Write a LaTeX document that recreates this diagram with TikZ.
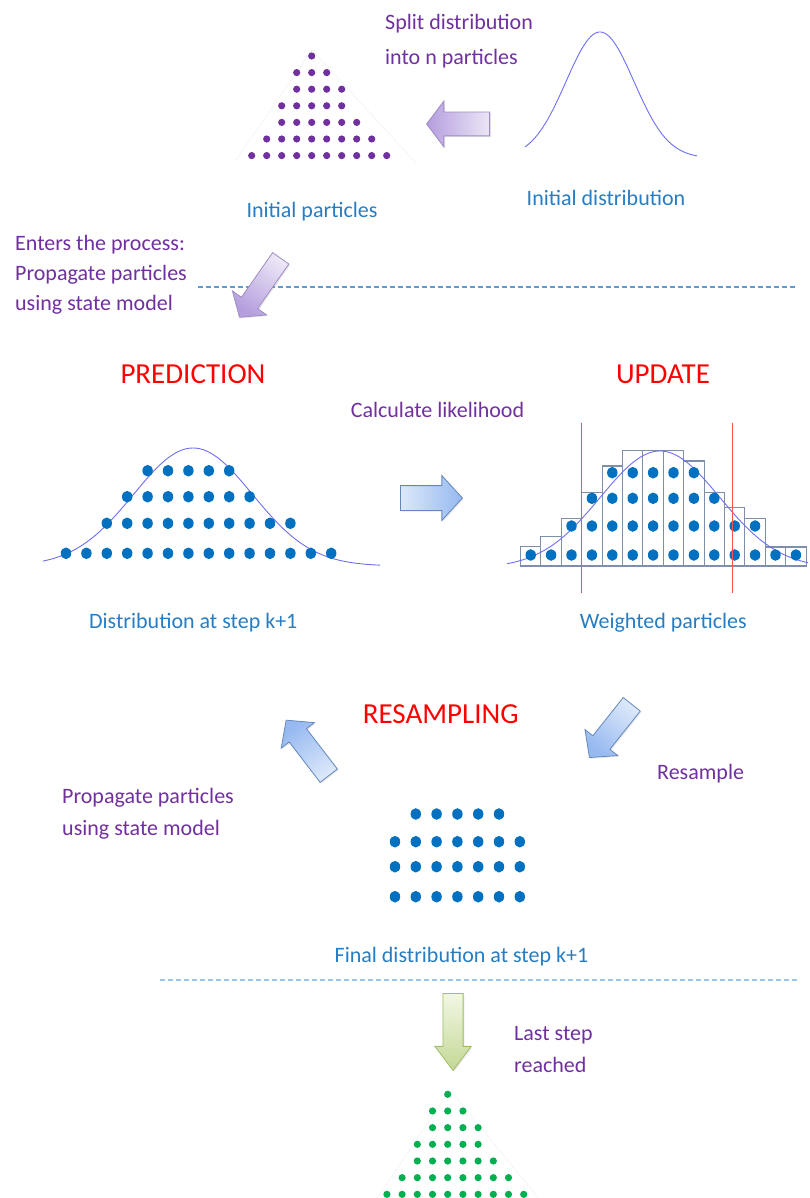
\documentclass[tikz,border=0pt]{standalone}
\usepackage{fontspec}
\setmainfont{Carlito}
\usepackage{tikz}
\usetikzlibrary{positioning,shapes,shapes.arrows,shadows,calc}

\definecolor{NotePurple}{RGB}{112,48,160}
\definecolor{LabelBlue}{RGB}{38,125,195}
\definecolor{DotBlue}{RGB}{0,112,192}
\definecolor{DotPurple}{RGB}{112,48,160}
\definecolor{DotGreen}{RGB}{0,176,80}
\definecolor{BellLine}{RGB}{110,110,240}
\definecolor{BarLine}{RGB}{125,143,170}
\definecolor{SepBlue}{RGB}{91,155,213}
\definecolor{SepLight}{RGB}{157,195,230}
\definecolor{CutRed}{RGB}{255,80,80}
\definecolor{LilacLight}{RGB}{236,230,246}
\definecolor{LilacDark}{RGB}{180,158,222}
\definecolor{LilacEdge}{RGB}{160,140,195}
\definecolor{SkyLight}{RGB}{220,232,250}
\definecolor{SkyDark}{RGB}{150,185,240}
\definecolor{SkyEdge}{RGB}{100,135,190}
\definecolor{LimeLight}{RGB}{242,247,228}
\definecolor{LimeDark}{RGB}{196,216,150}
\definecolor{LimeEdge}{RGB}{160,190,100}

\begin{document}
\begin{tikzpicture}[
		x=1pt, y=-1pt,
		every text node part/.style={align=left},
		every node/.style={inner sep=0pt},
		note/.style={text=NotePurple, font=\fontsize{22}{32}\selectfont},
		lbl/.style={text=LabelBlue, font=\fontsize{22}{32}\selectfont},
		stage/.style={text=red, font=\fontsize{29}{35}\selectfont},
		bell/.style={BellLine, line width=0.9pt},
		bar/.style={draw=BarLine, line width=1.1pt},
		cut/.style={CutRed, line width=1.3pt},
		sep/.style={line width=1.2pt, dash pattern=on 5pt off 3pt},
		faint/.style={black!5, line width=0.6pt},
		blockarrow/.style={single arrow, draw, line width=0.8pt, inner xsep=0pt, anchor=tail,
			drop shadow={opacity=0.18, shadow xshift=1.2pt, shadow yshift=-1.2pt}},
		lilacarrow/.style={blockarrow, draw=LilacEdge, top color=LilacLight, bottom color=LilacDark},
		skyarrow/.style={blockarrow, draw=SkyEdge, top color=SkyLight, bottom color=SkyDark},
		limearrow/.style={blockarrow, draw=LimeEdge, top color=LimeLight, bottom color=LimeDark}
	]
	\useasboundingbox (0,0) rectangle (809,1198);
	
	\begin{scope}
		\draw[faint] (236,160) -- (312,50) -- (416,163);
		\foreach \r/\from/\to in {0/0/0,1/-1/1,2/-1/2,3/-2/2,4/-2/3,5/-3/4,6/-4/5}
			\foreach \c in {\from,...,\to}
				\fill[DotPurple] ({311.7+15*\c},{56+16.6*\r}) circle[radius=3.6pt];
		\draw[bell] plot[domain=525:697, samples=80] (\x, {158-126*exp(-((\x-600)/34)*((\x-600)/34)/2)});
		
		\node(split)[note, anchor=west, font=\fontsize{22}{35}\selectfont] at (385,41.5) {Split distribution\\into n particles};
		\node(initpart)[lbl] at (312,212) {Initial particles};
		\node(initdist)[lbl] at (606,198) {Initial distribution};
		\node(splitarrow)[lilacarrow, shading angle=270, minimum height=63pt, inner ysep=11.5pt, single arrow head extend=11pt, single arrow tip angle=106, rotate=180] at (490,124) {};
		
		\node(enters)[note, anchor=west, font=\fontsize{22}{30}\selectfont] at (15,275) {Enters the process:\\Propagate particles\\using state model};
		\draw[sep, SepBlue] (198,287) -- (795,287);
		\node(enterarrow)[lilacarrow, shading angle=325, minimum height=72pt, inner ysep=9.5pt, single arrow head extend=11pt, single arrow tip angle=100, rotate=235] at (281,258) {};
	\end{scope}
	
	\begin{scope}
		\node(pred)[stage] at (193,374) {PREDICTION};
		\node(upd)[stage] at (663,374) {UPDATE};
		\node(likelihood)[note] at (437.5,410) {Calculate likelihood};
		\node(likearrow)[skyarrow, shading angle=90, minimum height=62pt, inner ysep=12pt, single arrow head extend=10pt, single arrow tip angle=95] at (400,498) {};
		
		\draw[bell] plot[domain=43:380, samples=100] (\x, {566-118*exp(-((\x-193)/59.5)*((\x-193)/59.5)/2)});
		\foreach \y/\from/\to in {470.7/4/8, 496.7/3/9, 523.3/2/11, 553.3/0/13}
			\foreach \i in {\from,...,\to}
				\fill[DotBlue] ({66+20.4*\i},\y) ellipse [x radius=5.2pt, y radius=5.8pt];
		\node(distk)[lbl] at (193.3,623) {Distribution at step k+1};
		
		\foreach \h [count=\i from 0] in {546.7,536.7,518.3,492.7,466,450.7,450.7,450.7,461,492.5,507.5,518.3,547,547}
			\draw[bar] ({520.5+20.4*\i},566) rectangle ++(20.4,{\h-566});
		\draw[bell] plot[domain=507:808, samples=100] (\x, {568-117*exp(-((\x-660)/59.5)*((\x-660)/59.5)/2)});
		\foreach \y/\from/\to in {472.7/4/8, 498.3/3/9, 526/2/11, 555/0/13}
			\foreach \i in {\from,...,\to}
				\fill[DotBlue] ({530.7+20.4*\i},\y) ellipse [x radius=5.2pt, y radius=5.8pt];
		\draw[cut] (581.7,422.7) -- (581.7,592.7);
		\draw[cut] (732.7,422.7) -- (732.7,592.7);
		\node(weighted)[lbl] at (663.3,623) {Weighted particles};
	\end{scope}
	
	\begin{scope}
		\node(resampling)[stage] at (440.7,714) {RESAMPLING};
		\node(backarrow)[skyarrow, shading angle=217.5, minimum height=70pt, inner ysep=10.5pt, single arrow head extend=10pt, single arrow tip angle=95, rotate=127.5] at (329,776) {};
		\node(downarrow)[skyarrow, shading angle=321.5, minimum height=68pt, inner ysep=10.5pt, single arrow head extend=10pt, single arrow tip angle=95, rotate=231.5] at (632,704) {};
		\node(resample)[note, anchor=west] at (657,774) {Resample};
		\node(propagate)[note, anchor=west] at (62,814) {Propagate particles\\using state model};
		
		\foreach \y/\from/\to in {814/1/5, 841.7/0/6, 866.7/0/6, 896.7/0/6}
			\foreach \i in {\from,...,\to}
				\fill[DotBlue] ({395+20.8*\i},\y) ellipse [x radius=5.2pt, y radius=5.8pt];
		\node(final)[lbl] at (461.5,957) {Final distribution at step k+1};
		\draw[sep, SepLight] (160,980) -- (798,980);
	\end{scope}
	
	\begin{scope}
		\node(lastarrow)[limearrow, shading angle=0, minimum height=77pt, inner ysep=9.7pt, single arrow head extend=8pt, single arrow tip angle=74, rotate=270] at (453,993) {};
		\node(laststep)[note, anchor=west] at (514,1050) {Last step\\reached};
		\draw[faint] (376,1200) -- (450,1090) -- (540,1200);
		\foreach \r/\from/\to in {0/0/0,1/-1/1,2/-1/2,3/-2/2,4/-2/3,5/-3/4,6/-4/5}
			\foreach \c in {\from,...,\to}
				\fill[DotGreen] ({447.7+15.2*\c},{1094.3+16.67*\r}) circle[radius=3.6pt];
	\end{scope}
	
\end{tikzpicture}
\end{document}
